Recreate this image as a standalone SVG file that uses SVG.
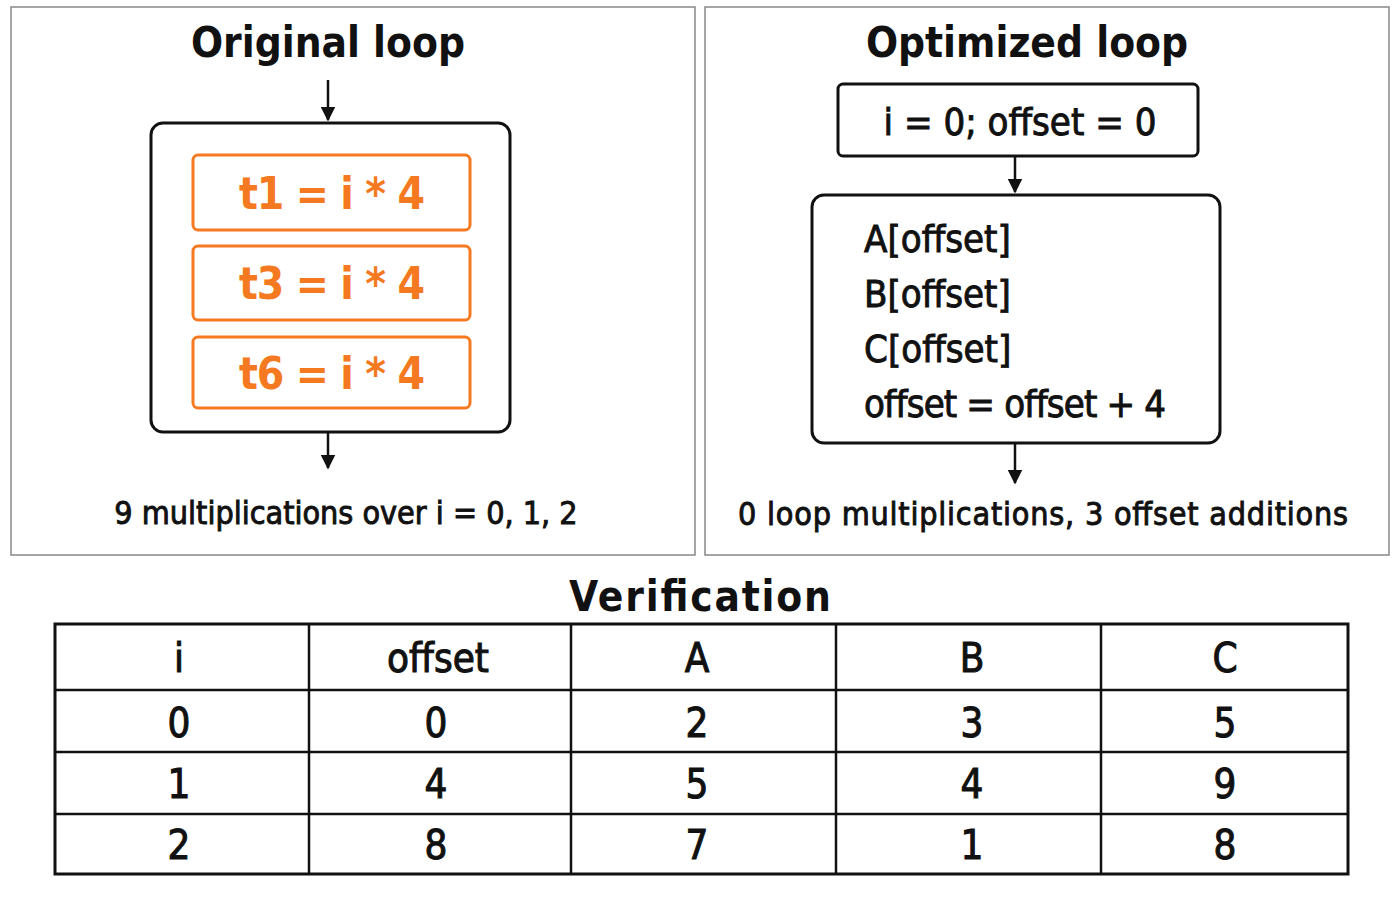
<svg xmlns="http://www.w3.org/2000/svg" width="1400" height="900" viewBox="0 0 1400 900">
<style>
text{font-family:"DejaVu Sans Condensed","Liberation Sans",sans-serif;fill:#111;text-anchor:middle}
.title{font-weight:bold;font-size:42px}
.panel{fill:#fff;stroke:#888;stroke-width:1.5}
.box{fill:#fff;stroke:#111;stroke-width:3}
.obox{fill:#fff;stroke:#f47920;stroke-width:3}
.otxt{fill:#f47920;font-weight:bold;font-size:44px}
.code{font-size:38px;stroke:#111;stroke-width:0.9}
.note{font-size:32px;stroke:#111;stroke-width:0.9}
.cell{font-size:40px;stroke:#111;stroke-width:1}
.conn line{stroke:#111;stroke-width:2.5}
.grid line{stroke:#111;stroke-width:2.5}
</style>
<defs><marker id="ah" viewBox="0 0 10 10" refX="9" refY="5" markerWidth="6" markerHeight="6" orient="auto"><path d="M0,0L10,5L0,10z" fill="#111"/></marker></defs>
<rect width="1400" height="900" fill="#fff"/>
<g id="left-panel"><rect class="panel" x="11" y="7" width="684" height="548"/>
<text class="title" x="328" y="57">Original loop</text></g>
<g id="loop-body"><rect class="box" x="151" y="123" width="359" height="309" rx="12"/></g>
<g id="t1"><rect class="obox" x="193" y="155" width="277" height="75" rx="5"/><text class="otxt" x="332" y="209" textLength="186">t1 = i * 4</text></g>
<g id="t3"><rect class="obox" x="193" y="246" width="277" height="74" rx="5"/><text class="otxt" x="332" y="299" textLength="186">t3 = i * 4</text></g>
<g id="t6"><rect class="obox" x="193" y="337" width="277" height="71" rx="5"/><text class="otxt" x="332" y="389" textLength="186">t6 = i * 4</text></g>
<g id="left-note"><text class="note" x="346" y="524">9 multiplications over i = 0, 1, 2</text></g>
<g id="right-panel"><rect class="panel" x="705" y="7" width="684" height="548"/>
<text class="title" x="1027" y="57">Optimized loop</text></g>
<g id="init"><rect class="box" x="838" y="84" width="360" height="72" rx="5"/><text class="code" x="1020" y="135">i = 0; offset = 0</text></g>
<g id="opt-body"><rect class="box" x="812" y="195" width="408" height="248" rx="12"/>
<text class="code" x="864" y="252" style="text-anchor:start">A[offset]</text>
<text class="code" x="864" y="307" style="text-anchor:start">B[offset]</text>
<text class="code" x="864" y="362" style="text-anchor:start">C[offset]</text>
<text class="code" x="864" y="417" style="text-anchor:start" textLength="302">offset = offset + 4</text></g>
<g id="right-note"><text class="note" x="1043" y="525" textLength="610">0 loop multiplications, 3 offset additions</text></g>
<g class="conn" id="connectors">
<line x1="328" y1="80" x2="328" y2="120" marker-end="url(#ah)"/>
<line x1="328" y1="432" x2="328" y2="468" marker-end="url(#ah)"/>
<line x1="1015" y1="156" x2="1015" y2="192" marker-end="url(#ah)"/>
<line x1="1015" y1="443" x2="1015" y2="483" marker-end="url(#ah)"/>
</g>
<g id="verification">
<text class="title" x="700" y="611" textLength="262">Verification</text>
<rect x="55" y="624" width="1293" height="250" fill="none" stroke="#111" stroke-width="3"/>
<g class="grid"><line x1="55" y1="690" x2="1348" y2="690"/><line x1="55" y1="752" x2="1348" y2="752"/><line x1="55" y1="814" x2="1348" y2="814"/>
<line x1="309" y1="624" x2="309" y2="874"/><line x1="571" y1="624" x2="571" y2="874"/><line x1="836" y1="624" x2="836" y2="874"/><line x1="1101" y1="624" x2="1101" y2="874"/></g>
<g>
<text class="cell" x="179" y="672">i</text><text class="cell" x="438" y="672">offset</text><text class="cell" x="697" y="672">A</text><text class="cell" x="972" y="672">B</text><text class="cell" x="1225" y="672">C</text>
<text class="cell" x="179" y="737">0</text><text class="cell" x="436" y="737">0</text><text class="cell" x="697" y="737">2</text><text class="cell" x="972" y="737">3</text><text class="cell" x="1225" y="737">5</text>
<text class="cell" x="179" y="798">1</text><text class="cell" x="436" y="798">4</text><text class="cell" x="697" y="798">5</text><text class="cell" x="972" y="798">4</text><text class="cell" x="1225" y="798">9</text>
<text class="cell" x="179" y="859">2</text><text class="cell" x="436" y="859">8</text><text class="cell" x="697" y="859">7</text><text class="cell" x="972" y="859">1</text><text class="cell" x="1225" y="859">8</text>
</g></g>
</svg>
